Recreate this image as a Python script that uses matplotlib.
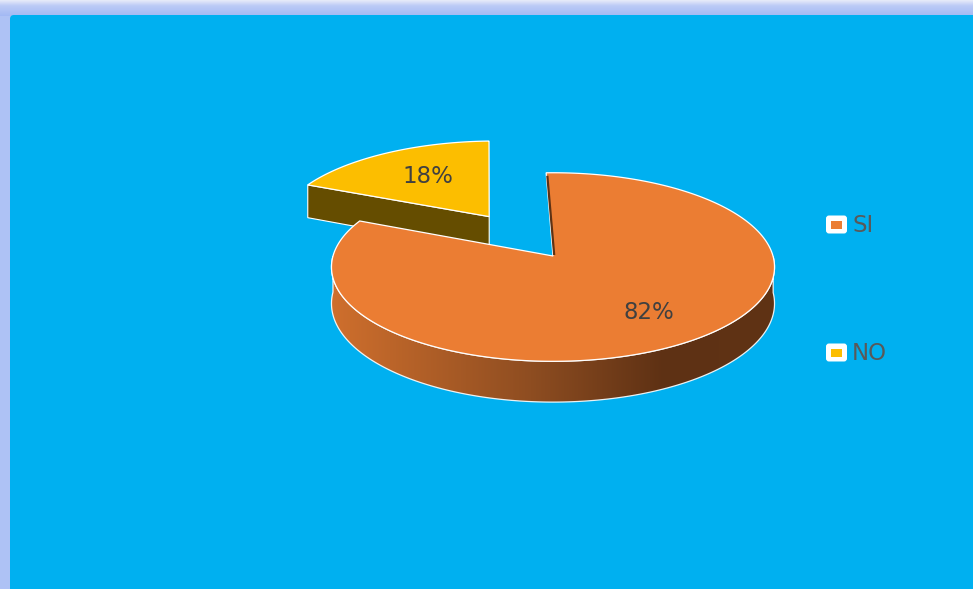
import numpy as np
import matplotlib
matplotlib.use('Agg')
import matplotlib.pyplot as plt
from matplotlib.patches import Polygon, FancyBboxPatch
from matplotlib.colors import LinearSegmentedColormap

labels = ['SI', 'NO']
values = [82, 18]
top_colors = ['#EB7D33', '#FCBE00']
side_colors = ['#5E3214', '#654D00']
explode = [0.0, 0.54]
label_radius = [0.7, 0.6]

W, H = 973, 589
CX, CY = 553, 256      # pie centre, pixels
RX, RY = 220, 93       # radii of the top ellipse
PERSP = 0.117          # foreshortening of the back half
DEPTH = 36             # thickness of the pie
START = 92             # first slice starts here, slices run clockwise

BG = '#00B0F0'


def project(u, v, drop=0.0):
    w = 1 + PERSP * v
    return CX + RX * u / w, CY - RY * v / w + drop / w


def arc(ox, oy, a_from, a_to, drop=0.0, n=300):
    t = np.radians(np.linspace(a_from, a_to, n))
    return [project(ox + np.cos(a), oy + np.sin(a), drop) for a in t]


fig = plt.figure(figsize=(W / 100, H / 100), dpi=100, facecolor='#AEC2F5')
ax = fig.add_axes([0, 0, 1, 1])
ax.axis('off')

# frame: soft band along the top, blue panel inside
band = np.linspace(0, 1, 64).reshape(-1, 1)
band_cmap = LinearSegmentedColormap.from_list(
    'band', [(0, '#E8ECF9'), (0.35, '#BCCBF6'), (1, '#A3B9F4')])
ax.imshow(band, cmap=band_cmap, extent=(0, W, 16, 0), aspect='auto', zorder=0)
ax.add_patch(FancyBboxPatch((10, 15), W + 40, H + 40,
                            boxstyle='round,pad=0,rounding_size=4',
                            fc=BG, ec='none', zorder=1))

total = float(sum(values))
side_cmap = LinearSegmentedColormap.from_list(
    'side', [(0, '#CF6F2D'), (0.45, '#8E4D21'), (0.75, '#5E3114'), (1, '#603315')])

# slice angles, clockwise from START
slices = []
a0 = START
for lab, val, tc, sc, ex, lr in zip(labels, values, top_colors, side_colors,
                                    explode, label_radius):
    a1 = a0 - val / total * 360
    mid = np.radians((a0 + a1) / 2)
    ox, oy = ex * np.cos(mid), ex * np.sin(mid)
    slices.append(dict(label=lab, value=val, a0=a0, a1=a1, mid=mid,
                       ox=ox, oy=oy, top=tc, side=sc, lr=lr))
    a0 = a1

# draw back slices first
order = sorted(range(len(slices)), key=lambda i: -slices[i]['oy'])
z = 2
for i in order:
    s = slices[i]
    ox, oy = s['ox'], s['oy']
    centre_top = project(ox, oy)
    centre_bot = project(ox, oy, DEPTH)

    # cut faces; nearly edge-on ones become a dark rim line
    for ang, nrm in ((s['a0'], s['a0'] + 90), (s['a1'], s['a1'] - 90)):
        ns = np.sin(np.radians(nrm))
        r = np.radians(ang)
        rim_top = project(ox + np.cos(r), oy + np.sin(r))
        rim_bot = project(ox + np.cos(r), oy + np.sin(r), DEPTH)
        if ns < -0.2:
            ax.add_patch(Polygon([centre_top, rim_top, rim_bot, centre_bot],
                                 closed=True, fc=s['side'], ec='white',
                                 lw=0.8, zorder=z))
        elif ns < 0:
            ax.plot([centre_top[0] + 1.2, rim_top[0] + 1.2],
                    [centre_top[1] - 1, rim_top[1] + 3],
                    color=s['side'], lw=1.6, zorder=40, solid_capstyle='butt')
    z += 1

    # outer wall on the front half
    t = np.linspace(s['a1'], s['a0'], 800)
    front = t[np.sin(np.radians(t)) <= 0]
    if len(front):
        top_edge = arc(ox, oy, front[0], front[-1])
        bot_edge = arc(ox, oy, front[-1], front[0], DEPTH)
        pts = np.array(top_edge + bot_edge)
        ax.add_patch(Polygon(pts, closed=True, fc='none', ec='white', lw=0.9,
                             alpha=0.9, zorder=z + 1))
        x0, x1 = pts[:, 0].min(), pts[:, 0].max()
        y0, y1 = pts[:, 1].min(), pts[:, 1].max()
        grad = np.linspace(0, 1, 256).reshape(1, -1)
        im = ax.imshow(grad, cmap=side_cmap, extent=(x0, x1, y1, y0),
                       aspect='auto', zorder=z)
        im.set_clip_path(Polygon(pts, closed=True, transform=ax.transData))
    z += 2

    # top face
    top_pts = [centre_top] + arc(ox, oy, s['a1'], s['a0'])
    ax.add_patch(Polygon(top_pts, closed=True, fc=s['top'], ec='white',
                         lw=0.9, zorder=z))
    z += 2

# percentage labels
for s in slices:
    lx, ly = project(s['ox'] + s['lr'] * np.cos(s['mid']),
                     s['oy'] + s['lr'] * np.sin(s['mid']))
    ax.text(lx + 3, ly - 1, f"{s['value'] / total * 100:.0f}%", ha='center',
            va='center', fontsize=16.5, color='#404040', zorder=50)

# legend
for s, ly in zip(slices, [224.5, 352.5]):
    ax.add_patch(FancyBboxPatch((826, ly - 9), 21, 18,
                                boxstyle='round,pad=0,rounding_size=3',
                                fc='white', ec='none', zorder=50))
    ax.add_patch(FancyBboxPatch((831, ly - 4), 11, 8, boxstyle='square,pad=0',
                                fc=s['top'], ec='none', zorder=51))
    ax.text(852, ly + 1, s['label'], ha='left', va='center', fontsize=16.5,
            color='#595959', zorder=51)

ax.set_xlim(0, W)
ax.set_ylim(H, 0)
ax.set_aspect('auto')

fig.savefig('out.png', dpi=100, facecolor=fig.get_facecolor())
